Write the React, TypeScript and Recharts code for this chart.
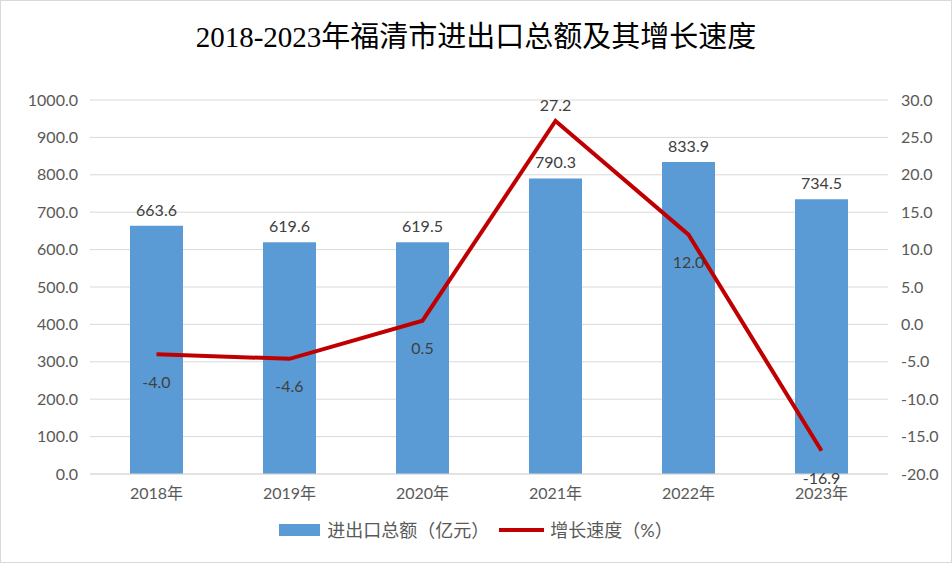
import { Bar, CartesianGrid, ComposedChart, LabelList, Legend, Line, XAxis, YAxis } from "recharts";

// 2018-2023 Fuqing: total import/export (亿元, bars) and growth rate (%, line)
const years = ["2018年", "2019年", "2020年", "2021年", "2022年", "2023年"];
const totals = [663.6, 619.6, 619.5, 790.3, 833.9, 734.5];
const growth = [-4.0, -4.6, 0.5, 27.2, 12.0, -16.9];
const leftTicks = [0, 100, 200, 300, 400, 500, 600, 700, 800, 900, 1000];
const rightTicks = [-20, -15, -10, -5, 0, 5, 10, 15, 20, 25, 30];

const BLUE = "#5B9BD5";
const RED = "#C00000";
const GRID = "#D9D9D9";
const AXIS_TEXT = "#595959";
const LABEL_TEXT = "#404040";
const FONT = "Lato, 'Noto Sans CJK SC', sans-serif";

const rows = years.map((year, i) => ({ year, total: totals[i], growth: growth[i] }));
const peak = Math.max(...growth);

// growth labels sit under the line, except the peak which goes on top
function GrowthLabel(props: any) {
  const { x, y, value } = props;
  const above = value === peak;
  return (
    <text
      x={x}
      y={above ? y - 16 : y + 27}
      textAnchor="middle"
      dominantBaseline="central"
      fontSize={16}
      fontFamily={FONT}
      fill={LABEL_TEXT}
    >
      {Number(value).toFixed(1)}
    </text>
  );
}

function LegendRow() {
  const text = { fontSize: 18, color: AXIS_TEXT, fontFamily: FONT, lineHeight: "24px" };
  return (
    <div style={{ display: "flex", justifyContent: "center", alignItems: "center", height: 24 }}>
      <span style={{ display: "inline-block", width: 41, height: 12, background: BLUE, marginRight: 7 }} />
      <span style={text}>进出口总额（亿元）</span>
      <span style={{ display: "inline-block", width: 45, height: 4, background: RED, margin: "0 6px 0 10px" }} />
      <span style={text}>增长速度（%）</span>
    </div>
  );
}

export default function App() {
  return (
    <div
      style={{
        position: "absolute",
        left: 0,
        top: 0,
        width: 952,
        height: 563,
        boxSizing: "border-box",
        border: `1px solid ${GRID}`,
        background: "#fff",
      }}
    >
      <div
        style={{
          position: "absolute",
          left: 0,
          right: 0,
          top: 16,
          textAlign: "center",
          fontFamily: "'Liberation Serif', 'Noto Sans CJK SC', serif",
          fontSize: 29,
          lineHeight: "40px",
          color: "#000",
        }}
      >
        2018-2023年福清市进出口总额及其增长速度
      </div>
      <ComposedChart
        width={950}
        height={561}
        data={rows}
        margin={{ top: 99, right: 0, bottom: 20, left: 0 }}
        style={{ fontFamily: FONT }}
      >
        <CartesianGrid yAxisId="left" vertical={false} stroke={GRID} strokeWidth={1} />
        <XAxis
          dataKey="year"
          height={44}
          tickSize={0}
          tickMargin={14}
          axisLine={{ stroke: GRID }}
          tick={{ fill: AXIS_TEXT, fontSize: 16 }}
        />
        <YAxis
          yAxisId="left"
          domain={[0, 1000]}
          ticks={leftTicks}
          width={89}
          tickSize={0}
          tickMargin={12}
          axisLine={false}
          tick={{ fill: AXIS_TEXT, fontSize: 16 }}
          tickFormatter={(v: number) => v.toFixed(1)}
        />
        <YAxis
          yAxisId="right"
          orientation="right"
          domain={[-20, 30]}
          ticks={rightTicks}
          width={63}
          tickSize={0}
          tickMargin={13}
          axisLine={false}
          tick={{ fill: AXIS_TEXT, fontSize: 16 }}
          tickFormatter={(v: number) => v.toFixed(1)}
        />
        <Legend verticalAlign="bottom" height={24} content={() => <LegendRow />} />
        <Bar yAxisId="left" dataKey="total" name="进出口总额（亿元）" fill={BLUE} barSize={53} isAnimationActive={false}>
          <LabelList
            dataKey="total"
            position="top"
            offset={10}
            fill={LABEL_TEXT}
            fontSize={16}
            formatter={(v: any) => Number(v).toFixed(1)}
          />
        </Bar>
        <Line
          yAxisId="right"
          dataKey="growth"
          name="增长速度（%）"
          stroke={RED}
          strokeWidth={4}
          dot={false}
          activeDot={false}
          isAnimationActive={false}
        >
          <LabelList dataKey="growth" content={GrowthLabel} />
        </Line>
      </ComposedChart>
    </div>
  );
}
